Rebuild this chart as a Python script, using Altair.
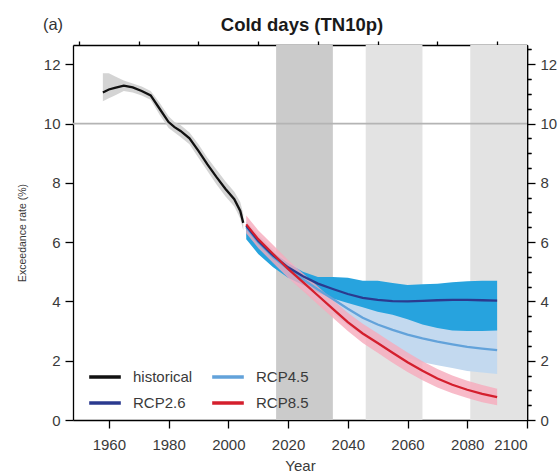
import altair as alt
import pandas as pd

# ---------------- data ----------------
hist_years = [1958, 1960, 1962, 1965, 1968, 1971, 1974, 1977, 1980, 1982, 1984,
              1987, 1990, 1993, 1996, 1999, 2002, 2004, 2005]
hist_vals = [11.05, 11.15, 11.2, 11.28, 11.22, 11.1, 10.95, 10.5, 10.05, 9.88, 9.75,
             9.5, 9.08, 8.62, 8.2, 7.8, 7.45, 7.05, 6.65]
hist_hi = [11.7, 11.7, 11.6, 11.45, 11.35, 11.25, 11.1, 10.7, 10.25, 10.05, 9.95,
           9.7, 9.3, 8.85, 8.45, 8.05, 7.7, 7.35, 6.95]
hist_lo = [10.75, 10.85, 10.95, 11.1, 11.05, 10.95, 10.8, 10.3, 9.85, 9.7, 9.55,
           9.3, 8.85, 8.4, 7.95, 7.55, 7.2, 6.8, 6.4]

proj_years = [2006, 2010, 2015, 2020, 2025, 2030, 2035, 2040, 2045, 2050, 2055,
              2060, 2065, 2070, 2075, 2080, 2085, 2090]

rcp26 = [6.55, 6.05, 5.55, 5.15, 4.85, 4.6, 4.42, 4.25, 4.12, 4.05, 4.01,
         4.0, 4.02, 4.04, 4.05, 4.05, 4.04, 4.03]
rcp26_hi = [6.6, 6.15, 5.65, 5.3, 5.0, 4.82, 4.82, 4.8, 4.7, 4.7, 4.62,
            4.55, 4.58, 4.6, 4.65, 4.68, 4.7, 4.7]
rcp26_lo = [6.1, 5.6, 5.15, 4.8, 4.55, 4.3, 4.1, 3.95, 3.8, 3.65, 3.55,
            3.4, 3.22, 3.1, 3.02, 3.0, 3.0, 3.02]

rcp45 = [6.5, 6.0, 5.5, 5.1, 4.75, 4.4, 4.08, 3.75, 3.45, 3.22, 3.04,
         2.88, 2.75, 2.64, 2.55, 2.47, 2.41, 2.36]
rcp45_hi = [6.7, 6.25, 5.75, 5.35, 5.0, 4.7, 4.45, 4.25, 4.05, 3.9, 3.75,
            3.6, 3.5, 3.4, 3.3, 3.2, 3.15, 3.1]
rcp45_lo = [6.2, 5.7, 5.2, 4.8, 4.4, 4.0, 3.6, 3.2, 2.85, 2.55, 2.3,
            2.1, 1.95, 1.85, 1.75, 1.65, 1.6, 1.55]

rcp85 = [6.6, 6.1, 5.6, 5.1, 4.65, 4.2, 3.75, 3.3, 2.92, 2.6, 2.27,
         1.95, 1.66, 1.4, 1.19, 1.02, 0.88, 0.77]
rcp85_hi = [6.9, 6.4, 5.9, 5.4, 4.95, 4.5, 4.05, 3.62, 3.25, 2.93, 2.6,
            2.28, 1.98, 1.72, 1.5, 1.32, 1.18, 1.05]
rcp85_lo = [6.3, 5.8, 5.3, 4.8, 4.35, 3.9, 3.45, 3.0, 2.6, 2.27, 1.93,
            1.62, 1.34, 1.1, 0.9, 0.74, 0.6, 0.5]

period_start = [2016, 2046, 2081]
period_end = [2035, 2065, 2100]
period_shade = ["near", "mid", "far"]

# legend fills column by column: (historical, RCP2.6) | (RCP4.5, RCP8.5)
series_names = ["historical", "RCP2.6", "RCP4.5", "RCP8.5"]
series_colors = ["#111111", "#2b3a8f", "#62a2da", "#d41f2d"]

chart_title = "Cold days (TN10p)"
panel_label = "(a)"

# ---------------- tables ----------------
bands = pd.DataFrame({"start": period_start, "end": period_end, "shade": period_shade})
hist_df = pd.DataFrame({"year": hist_years, "lo": hist_lo, "hi": hist_hi})
b45 = pd.DataFrame({"year": proj_years, "lo": rcp45_lo, "hi": rcp45_hi})
b85 = pd.DataFrame({"year": proj_years, "lo": rcp85_lo, "hi": rcp85_hi})
b26 = pd.DataFrame({"year": proj_years, "lo": rcp26_lo, "hi": rcp26_hi})

lines = pd.concat([
    pd.DataFrame({"year": proj_years, "value": rcp45, "series": "RCP4.5", "ord": 1}),
    pd.DataFrame({"year": proj_years, "value": rcp26, "series": "RCP2.6", "ord": 2}),
    pd.DataFrame({"year": proj_years, "value": rcp85, "series": "RCP8.5", "ord": 3}),
    pd.DataFrame({"year": hist_years, "value": hist_vals, "series": "historical", "ord": 4}),
], ignore_index=True)

W, H = 454, 375
FONT = "Liberation Sans"
xs = alt.Scale(domain=[1948, 2100], nice=False, zero=False)
ys = alt.Scale(domain=[0, 12.65], nice=False, zero=False)

ax_common = dict(grid=False, domainColor="black", tickColor="black", domainWidth=1.3,
                 tickWidth=1.3, labelColor="#3a3a3a", labelFontSize=15, labelFont=FONT)

x_major = alt.Axis(values=list(range(1960, 2101, 20)), format="d", tickSize=8, labelPadding=9,
                   title="Year", titleFontSize=15, titleFontWeight="normal", titleColor="#3a3a3a",
                   titleFont=FONT, titlePadding=6, **ax_common)
x_minor = alt.Axis(values=[1950, 1970, 1990, 2010, 2030, 2050, 2070, 2090], labels=False,
                   tickSize=4, title=None, **ax_common)
y_vals = [0, 2, 4, 6, 8, 10, 12]
y_minor_vals = [v / 2 for v in range(0, 26) if v % 4 != 0]
y_left = alt.Axis(values=y_vals, tickSize=8, labelPadding=5, title="Exceedance rate (%)",
                  titleFontSize=10.5, titleFontWeight="normal", titleColor="#3a3a3a",
                  titleFont=FONT, titleX=-51, titleY=H / 2, titleBaseline="middle",
                  titleAlign="center", **ax_common)
y_left_minor = alt.Axis(values=y_minor_vals, labels=False, tickSize=4, title=None, **ax_common)
y_right = alt.Axis(values=y_vals, orient="right", tickSize=8, labelPadding=5, title=None,
                   **ax_common)
y_right_minor = alt.Axis(values=y_minor_vals, orient="right", labels=False, tickSize=4,
                         title=None, **ax_common)

shade_layer = alt.Chart(bands).mark_rect().encode(
    x=alt.X("start:Q", scale=xs, axis=x_major),
    x2="end:Q",
    y=alt.value(0),
    y2=alt.value(H),
    fill=alt.Fill("shade:N", scale=alt.Scale(domain=period_shade,
                                             range=["#cbcbcb", "#e3e3e3", "#e3e3e3"]),
                  legend=None),
)

hline = alt.Chart(pd.DataFrame({"v": [10]})).mark_rule(color="#b4b4b4", strokeWidth=1.8).encode(
    y=alt.Y("v:Q", scale=ys, axis=y_left)
)

def band(df, color, xaxis=None, yaxis=None, opacity=1.0):
    return alt.Chart(df).mark_area(color=color, opacity=opacity).encode(
        x=alt.X("year:Q", scale=xs, axis=xaxis),
        y=alt.Y("lo:Q", scale=ys, axis=yaxis),
        y2="hi:Q",
    )

hist_band = band(hist_df, "#cfcfcf", xaxis=x_minor, yaxis=y_left_minor, opacity=0.9)
band45 = band(b45, "#c3d9ef", yaxis=y_right)
band26 = band(b26, "#27a3de")
band85 = band(b85, "#f6aabb", yaxis=y_right_minor, opacity=0.8)

line_layer = alt.Chart(lines).mark_line(strokeWidth=2.3).encode(
    x=alt.X("year:Q", scale=xs, axis=None),
    y=alt.Y("value:Q", scale=ys, axis=None),
    color=alt.Color("series:N",
                    scale=alt.Scale(domain=series_names, range=series_colors),
                    legend=alt.Legend(orient="none", legendX=14, legendY=314, columns=2,
                                      symbolType="stroke", symbolSize=1000,
                                      symbolStrokeWidth=3.5, labelFontSize=15,
                                      labelColor="#3a3a3a", labelFont=FONT,
                                      title=None, columnPadding=12, rowPadding=0,
                                      labelOffset=10)),
    detail="series:N",
    order="ord:Q",
)

title_mark = alt.Chart(pd.DataFrame({"t": [chart_title]})).mark_text(
    fontSize=18.5, font=FONT, fontWeight="bold", color="#1a1a1a", baseline="middle",
    align="center"
).encode(text="t:N", x=alt.value(229), y=alt.value(-20))

panel_tag = alt.Chart(pd.DataFrame({"t": [panel_label]})).mark_text(
    fontSize=16.5, font=FONT, color="#333", baseline="middle", align="center"
).encode(text="t:N", x=alt.value(-20), y=alt.value(-20))

chart = alt.layer(
    shade_layer, hline, hist_band, band45, band26, band85, line_layer, title_mark, panel_tag
).resolve_axis(x="independent", y="independent").properties(
    width=W, height=H,
    autosize=alt.AutoSizeParams(type="none"),
    padding={"left": 73, "top": 45, "right": 31, "bottom": 55},
).configure_view(stroke="black", strokeWidth=1.4).configure(font=FONT)

chart.save("out.html", embed_options={"renderer": "svg", "actions": False})
